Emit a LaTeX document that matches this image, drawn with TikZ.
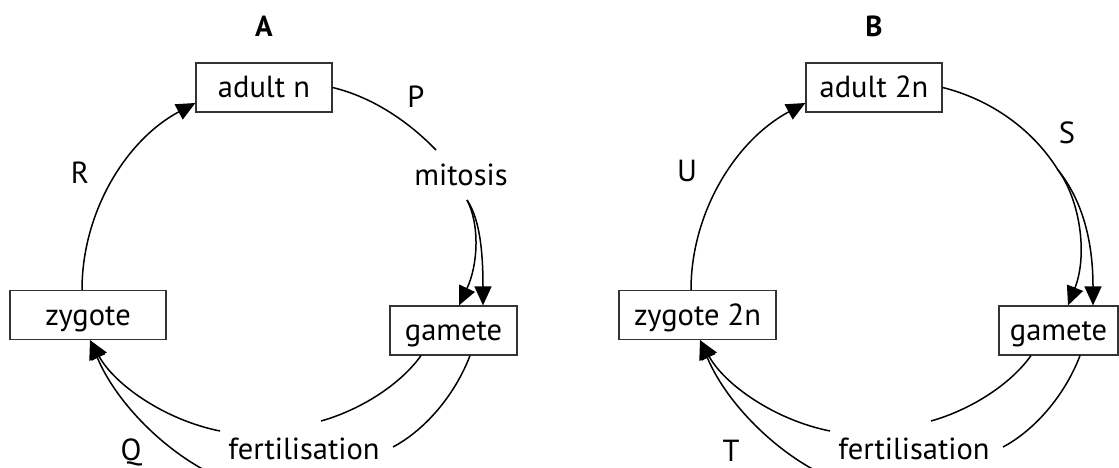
\documentclass[tikz,border=0pt]{standalone}
\usepackage{fontspec}
\setmainfont{PT Sans}
\usetikzlibrary{arrows.meta}
\begin{document}
\begin{tikzpicture}[x=1pt,y=-1pt,
  box/.style={draw=black!80, line width=1.2pt, inner sep=0pt, minimum height=49pt,
    text height=22pt, text depth=2pt, font=\fontsize{30.5}{36}\selectfont},
  lbl/.style={inner sep=0pt, anchor=base, font=\fontsize{30.5}{36}\selectfont},
  ttl/.style={inner sep=0pt, anchor=base, font=\bfseries\fontsize{29}{34}\selectfont},
  cyc/.style={line width=1.5pt},
  arr/.style={cyc, -{Triangle[length=19pt,width=17pt]}}]
\useasboundingbox (0,0) rectangle (1119,468);
% ---------- Panel A ----------
\node[ttl] (tA) at (264,37) {A};
\node[box, minimum width=136pt] (adA) at (264,87.5) {adult n};
\node[box, minimum width=156pt] (zyA) at (88,315) {zygote};
\node[box, minimum width=127pt] (gaA) at (453.5,330.5) {gamete};
\node[lbl] (P) at (416,108) {P};
\node[lbl] (mit) at (461,185) {mitosis};
\node[lbl] (R) at (80,183) {R};
\node[lbl] (fA) at (304,459) {fertilisation};
\node[lbl] (Q) at (131,460) {Q};
\coordinate (mA) at (467,200);
\coordinate (pA) at (436,150);
\coordinate (g1A) at (321,421);
\coordinate (g2A) at (393,447);
\coordinate (f1A) at (220,431);
\coordinate (f2A) at (208,472);
\draw[cyc] (adA.east) .. controls (372,97) and (408,121) .. (pA);
\draw[arr] (mA) .. controls (480,225) and (478,265) .. ([xshift=5.5pt]gaA.north);
\draw[arr] (mA) .. controls (477,215) and (483,240) .. ([xshift=29.5pt]gaA.north);
\draw[cyc] ([xshift=-32.5pt]gaA.south) .. controls (400,385) and (360,410) .. (g1A);
\draw[cyc] ([xshift=16.5pt]gaA.south) .. controls (455,395) and (425,430) .. (g2A);
\draw[arr] (f1A) .. controls (165,420) and (115,385) .. ([xshift=2pt]zyA.south);
\draw[arr] (f2A) .. controls (160,447) and (115,400) .. ([xshift=2pt]zyA.south);
\draw[arr] ([xshift=-6pt]zyA.north) .. controls (82,212) and (126,140) .. ([yshift=-15.5pt]adA.west);
% ---------- Panel B ----------
\node[ttl] (tB) at (874,37) {B};
\node[box, minimum width=136pt] (adB) at (874,87.5) {adult 2n};
\node[box, minimum width=157pt] (zyB) at (697.5,315) {zygote 2n};
\node[box, minimum width=119pt] (gaB) at (1058.5,330.5) {gamete};
\node[lbl] (S) at (1067,143) {S};
\node[lbl] (U) at (687,182) {U};
\node[lbl] (fB) at (914,459) {fertilisation};
\node[lbl] (T) at (731,461) {T};
\coordinate (sB) at (1058,170);
\coordinate (g1B) at (931,421);
\coordinate (g2B) at (1003,447);
\coordinate (f1B) at (830,431);
\coordinate (f2B) at (818,472);
\draw[cyc] (adB.east) .. controls (985,98) and (1030,125) .. (sB);
\draw[arr] (sB) .. controls (1080,200) and (1088,255) .. ([xshift=9.5pt]gaB.north);
\draw[arr] (sB) .. controls (1082,200) and (1093,240) .. ([xshift=34.5pt]gaB.north);
\draw[cyc] ([xshift=-27.5pt]gaB.south) .. controls (1010,385) and (970,410) .. (g1B);
\draw[cyc] ([xshift=21.5pt]gaB.south) .. controls (1065,395) and (1035,430) .. (g2B);
\draw[arr] (f1B) .. controls (775,420) and (725,385) .. ([xshift=2.5pt]zyB.south);
\draw[arr] (f2B) .. controls (770,447) and (725,400) .. ([xshift=2.5pt]zyB.south);
\draw[arr] ([xshift=-6.5pt]zyB.north) .. controls (691,212) and (736,140) .. ([yshift=-15.5pt]adB.west);
\end{tikzpicture}
\end{document}
